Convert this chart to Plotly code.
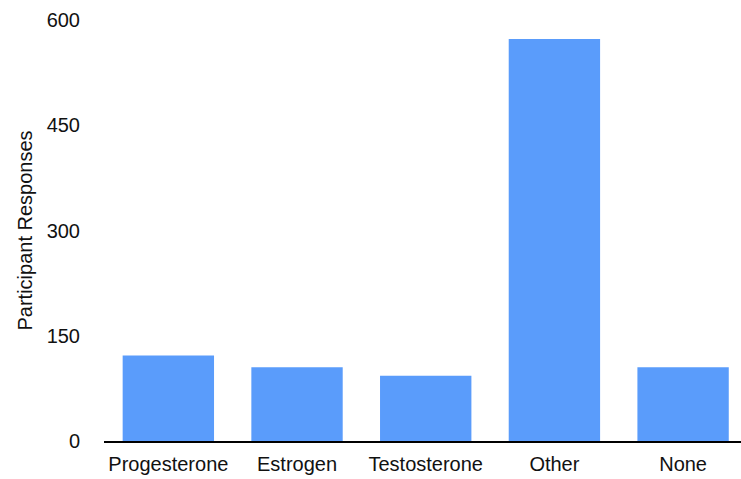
import plotly.graph_objects as go

categories = ["Progesterone", "Estrogen", "Testosterone", "Other", "None"]
responses = [122, 105, 93, 573, 105]
y_ticks = [0, 150, 300, 450, 600]

fig = go.Figure(go.Bar(x=categories, y=responses, marker=dict(color="#5A9CFB", line=dict(width=0))))

font_family = "Liberation Sans, Arial, Helvetica, sans-serif"
fig.update_layout(
    width=741, height=479,
    margin=dict(l=104, r=0, t=20, b=38, autoexpand=False),
    plot_bgcolor="white", paper_bgcolor="white",
    bargap=0.29,
    showlegend=False,
    font=dict(family=font_family, size=20, color="#111111"),
)
fig.update_xaxes(
    range=[-0.5, 4.45], showline=True, linecolor="black", linewidth=2,
    showgrid=False, ticks="", ticklabelstandoff=4, tickfont=dict(size=20),
)
fig.update_yaxes(
    range=[0, 600], tickvals=y_ticks, showgrid=False, zeroline=False, showline=False,
    ticks="", ticklabelstandoff=23, tickfont=dict(size=20),
    title=dict(text="Participant Responses", font=dict(size=20), standoff=8),
    automargin=False,
)
fig.write_html("out.html")
